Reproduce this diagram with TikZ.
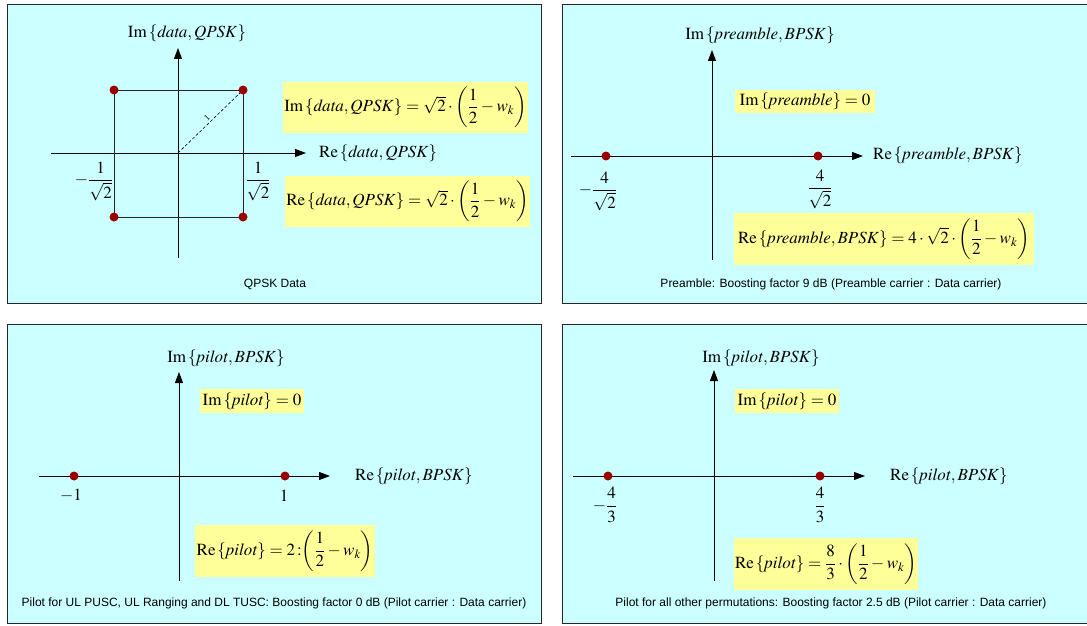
\documentclass[tikz,border=0pt]{standalone}
\usepackage{amsmath}
\usepackage{mathptmx}
\usepackage[no-math]{fontspec}
\setmainfont{Liberation Serif}
\newfontfamily\capfont{Liberation Sans}
\usetikzlibrary{arrows.meta}
\definecolor{cyanbg}{HTML}{CCFFFF}
\definecolor{ylw}{HTML}{FFFF99}
\definecolor{dotred}{HTML}{990000}
\tikzset{
  panel/.style={draw=black!85, line width=0.8pt, fill=cyanbg},
  ybox/.style={fill=ylw, inner sep=1pt, anchor=center, font=\fontsize{17}{20}\selectfont},
  dotnode/.style={circle, fill=dotred, draw=none, inner sep=0pt, minimum size=9pt},
  axisline/.style={-{Triangle[length=11pt,width=8pt]}, line width=0.8pt, black},
  sqline/.style={line width=0.8pt, black!85},
  mlabel/.style={font=\fontsize{17}{20}\selectfont, inner sep=0pt},
  ticklbl/.style={font=\fontsize{17}{20}\selectfont, inner sep=0pt},
  captxt/.style={font=\capfont\fontsize{12}{14}\selectfont, inner sep=0pt},
}
\begin{document}
\begin{tikzpicture}[x=1pt,y=-1pt]
\useasboundingbox (0,0) rectangle (1087,626);
% ---------------- Panel 1: QPSK data
\draw[panel] (7,4) rectangle (541,303);
\coordinate (o1) at (178,153);
\coordinate (im1b) at (178,258);
\coordinate (im1t) at (178,48);
\coordinate (re1l) at (51,153);
\coordinate (re1r) at (306,153);
\coordinate (q1a) at (114,90);
\coordinate (q1b) at (243,90);
\coordinate (q1c) at (114,217);
\coordinate (q1d) at (243,217);
\draw[axisline] (im1b) -- (im1t);
\draw[axisline] (re1l) -- (re1r);
\draw[sqline] (q1a) -- (q1b) -- (q1d) -- (q1c) -- cycle;
\draw[densely dashed, line width=0.6pt] (o1) -- (q1b)
  node[pos=0.5, above=1pt, sloped, font=\fontsize{9}{10}\selectfont, inner sep=1pt] (one1) {1};
\node[dotnode] (d1a) at (q1a) {};
\node[dotnode] (d1b) at (q1b) {};
\node[dotnode] (d1c) at (q1c) {};
\node[dotnode] (d1d) at (q1d) {};
\node[mlabel] (imlab1) at (187,33) {$\mathrm{Im}\,\{\mathit{data},\mathit{QPSK}\}$};
\node[mlabel, anchor=west] (relab1) at (319,153) {$\mathrm{Re}\,\{\mathit{data},\mathit{QPSK}\}$};
\node[ticklbl] (t1l) at (94,181) {$-\dfrac{1}{\sqrt{2}}$};
\node[ticklbl] (t1r) at (258,181) {$\dfrac{1}{\sqrt{2}}$};
\node[ybox, minimum width=241pt, minimum height=51pt] (yb1a) at (405.5,107.5)
  {$\mathrm{Im}\,\{\mathit{data},\mathit{QPSK}\}=\sqrt{2}\cdot\left(\dfrac{1}{2}-w_k\right)$};
\node[ybox, minimum width=245pt, minimum height=51pt] (yb1b) at (407.5,201.5)
  {$\mathrm{Re}\,\{\mathit{data},\mathit{QPSK}\}=\sqrt{2}\cdot\left(\dfrac{1}{2}-w_k\right)$};
\node[captxt] (cap1) at (275,284) {QPSK Data};
% ---------------- Panel 2: preamble
\draw[panel] (562,4) rectangle (1095,303);
\coordinate (im2b) at (712,260);
\coordinate (im2t) at (712,50);
\coordinate (re2l) at (571,156);
\coordinate (re2r) at (863,156);
\draw[axisline] (im2b) -- (im2t);
\draw[axisline] (re2l) -- (re2r);
\node[dotnode] (d2a) at (606,156) {};
\node[dotnode] (d2b) at (818,156) {};
\node[mlabel] (imlab2) at (760,35) {$\mathrm{Im}\,\{\mathit{preamble},\mathit{BPSK}\}$};
\node[mlabel, anchor=west] (relab2) at (873,155) {$\mathrm{Re}\,\{\mathit{preamble},\mathit{BPSK}\}$};
\node[ticklbl] (t2l) at (598,191) {$-\dfrac{4}{\sqrt{2}}$};
\node[ticklbl] (t2r) at (820,189) {$\dfrac{4}{\sqrt{2}}$};
\node[ybox, minimum width=140pt, minimum height=23pt] (yb2a) at (805,101.5)
  {$\mathrm{Im}\,\{\mathit{preamble}\}=0$};
\node[ybox, minimum width=300pt, minimum height=52pt] (yb2b) at (884,239)
  {$\mathrm{Re}\,\{\mathit{preamble},\mathit{BPSK}\}=4\cdot\sqrt{2}\cdot\left(\dfrac{1}{2}-w_k\right)$};
\node[captxt] (cap2) at (831,284) {Preamble: Boosting factor 9 dB (Preamble carrier : Data carrier)};
% ---------------- Panel 3: pilot 0 dB
\draw[panel] (7,324) rectangle (541,623);
\coordinate (im3b) at (179,581);
\coordinate (im3t) at (179,372);
\coordinate (re3l) at (39,476);
\coordinate (re3r) at (330,476);
\draw[axisline] (im3b) -- (im3t);
\draw[axisline] (re3l) -- (re3r);
\node[dotnode] (d3a) at (74,476) {};
\node[dotnode] (d3b) at (285,476) {};
\node[mlabel] (imlab3) at (226,358) {$\mathrm{Im}\,\{\mathit{pilot},\mathit{BPSK}\}$};
\node[mlabel, anchor=west] (relab3) at (355,476) {$\mathrm{Re}\,\{\mathit{pilot},\mathit{BPSK}\}$};
\node[ticklbl] (t3l) at (71,496) {$-1$};
\node[ticklbl] (t3r) at (284,496) {$1$};
\node[ybox, minimum width=104pt, minimum height=24pt] (yb3a) at (252,401)
  {$\mathrm{Im}\,\{\mathit{pilot}\}=0$};
\node[ybox, minimum width=180pt, minimum height=52pt] (yb3b) at (285,551)
  {$\mathrm{Re}\,\{\mathit{pilot}\}=2\,{:}\!\left(\dfrac{1}{2}-w_k\right)$};
\node[captxt] (cap3) at (274,603) {Pilot for UL PUSC, UL Ranging and DL TUSC: Boosting factor 0 dB (Pilot carrier : Data carrier)};
% ---------------- Panel 4: pilot 2.5 dB
\draw[panel] (562,324) rectangle (1095,623);
\coordinate (im4b) at (714,581);
\coordinate (im4t) at (714,370);
\coordinate (re4l) at (573,476);
\coordinate (re4r) at (865,476);
\draw[axisline] (im4b) -- (im4t);
\draw[axisline] (re4l) -- (re4r);
\node[dotnode] (d4a) at (608,476) {};
\node[dotnode] (d4b) at (820,476) {};
\node[mlabel] (imlab4) at (761,358) {$\mathrm{Im}\,\{\mathit{pilot},\mathit{BPSK}\}$};
\node[mlabel, anchor=west] (relab4) at (890,476) {$\mathrm{Re}\,\{\mathit{pilot},\mathit{BPSK}\}$};
\node[ticklbl] (t4l) at (605,505) {$-\dfrac{4}{3}$};
\node[ticklbl] (t4r) at (820,505) {$\dfrac{4}{3}$};
\node[ybox, minimum width=104pt, minimum height=24pt] (yb4a) at (787,401)
  {$\mathrm{Im}\,\{\mathit{pilot}\}=0$};
\node[ybox, minimum width=182pt, minimum height=52pt] (yb4b) at (826,564)
  {$\mathrm{Re}\,\{\mathit{pilot}\}=\dfrac{8}{3}\cdot\left(\dfrac{1}{2}-w_k\right)$};
\node[captxt] (cap4) at (831,603) {Pilot for all other permutations: Boosting factor 2.5 dB (Pilot carrier : Data carrier)};
\end{tikzpicture}
\end{document}
